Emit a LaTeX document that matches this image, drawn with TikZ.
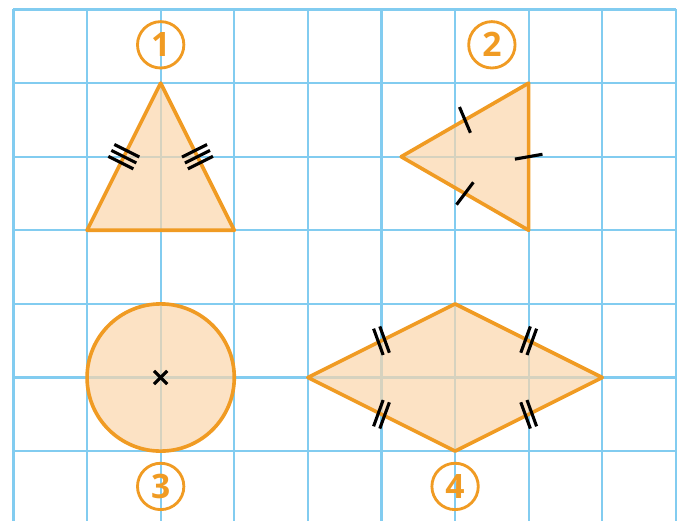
\documentclass[tikz,border=0pt]{standalone}
\usepackage{fontspec}
\setsansfont{Open Sans}
\usepackage{xcolor}
\usetikzlibrary{calc}

\definecolor{cuadricula}{RGB}{130,204,240}
\definecolor{naranja}{RGB}{240,155,35}
\definecolor{relleno}{RGB}{251,213,171}

\tikzset{
  rejilla/.style={cuadricula, line width=0.8pt},
  figura/.style={draw=naranja, line width=1.4pt, fill=relleno, fill opacity=0.7, line join=round},
  marca/.style={black, line width=1.2pt},
  etiqueta/.style={circle, draw=naranja, line width=1.1pt, text=naranja, minimum size=0.63cm, inner sep=0pt, font=\sffamily\bfseries\fontsize{13}{13}\selectfont}
}

% marcas de lados iguales: centro, angulo del lado, numero de marcas
\newcommand{\marcas}[3]{%
  \begin{scope}[shift={#1}, rotate=#2]
    \foreach \k in {1,...,#3}
      \draw[marca] ({(\k-(#3+1)/2)*0.09},-0.19) -- ++(0,0.38);
  \end{scope}}

\begin{document}
\begin{tikzpicture}
  \useasboundingbox (-0.183,0.064) rectangle (9.083,7.129);
  \clip (-0.183,0.064) rectangle (9.083,7.129);

  % cuadricula
  \foreach \i in {0,...,9}
    \draw[rejilla] (\i,0) -- (\i,7);
  \foreach \j in {1,...,7}
    \draw[rejilla] (0,\j) -- (9,\j);

  % figura 1
  \coordinate (a1) at (1,4);
  \coordinate (a2) at (2,6);
  \coordinate (a3) at (3,4);
  \draw[figura] (a1) -- (a2) -- (a3) -- cycle;
  \marcas{($(a1)!0.5!(a2)$)}{63.43}{3}
  \marcas{($(a2)!0.5!(a3)$)}{-63.43}{3}
  \node[etiqueta] (n1) at (2,6.52) {1};

  % figura 2
  \coordinate (b1) at (5.268,5);
  \coordinate (b2) at (7,6);
  \coordinate (b3) at (7,4);
  \draw[figura] (b1) -- (b2) -- (b3) -- cycle;
  \marcas{($(b1)!0.5!(b2)$)}{23}{1}
  \marcas{($(b2)!0.5!(b3)$)}{100}{1}
  \marcas{($(b3)!0.5!(b1)$)}{-37}{1}
  \node[etiqueta] (n2) at (6.5,6.52) {2};

  % figura 3
  \coordinate (c0) at (2,2);
  \draw[figura] (c0) circle (1);
  \draw[marca] ($(c0)+(-0.09,-0.09)$) -- ($(c0)+(0.09,0.09)$);
  \draw[marca] ($(c0)+(-0.09,0.09)$) -- ($(c0)+(0.09,-0.09)$);
  \node[etiqueta] (n3) at (2,0.52) {3};

  % figura 4
  \coordinate (d1) at (4,2);
  \coordinate (d2) at (6,3);
  \coordinate (d3) at (8,2);
  \coordinate (d4) at (6,1);
  \draw[figura] (d1) -- (d2) -- (d3) -- (d4) -- cycle;
  \marcas{($(d1)!0.5!(d2)$)}{20}{2}
  \marcas{($(d2)!0.5!(d3)$)}{-20}{2}
  \marcas{($(d3)!0.5!(d4)$)}{20}{2}
  \marcas{($(d4)!0.5!(d1)$)}{-20}{2}
  \node[etiqueta] (n4) at (6,0.52) {4};
\end{tikzpicture}
\end{document}
